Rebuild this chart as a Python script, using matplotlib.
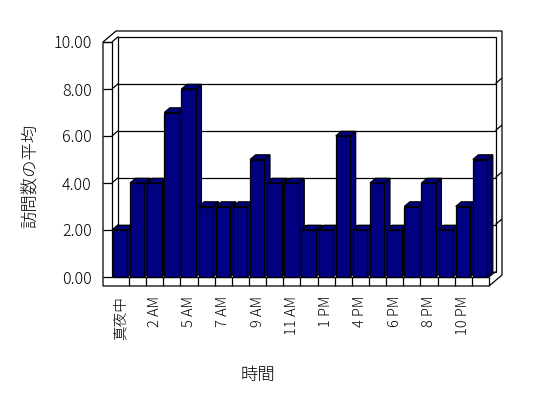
import matplotlib
matplotlib.use("Agg")
import matplotlib.pyplot as plt
from matplotlib.patches import Polygon

plt.rcParams['font.family'] = ['Noto Sans CJK JP', 'DejaVu Sans']

categories = ['真夜中', '1 AM', '2 AM', '4 AM', '5 AM', '6 AM', '7 AM', '8 AM',
              '9 AM', '10 AM', '11 AM', '正午', '1 PM', '3 PM', '4 PM', '5 PM',
              '6 PM', '7 PM', '8 PM', '9 PM', '10 PM', '11 PM']
values = [2, 4, 4, 7, 8, 3, 3, 3, 5, 4, 4, 2, 2, 6, 2, 4, 2, 3, 4, 2, 3, 5]
yticks = [0, 2, 4, 6, 8, 10]
ylabel = '訪問数の平均'
xlabel = '時間'

BAR = '#000080'
W, H = 548, 398
fig = plt.figure(figsize=(W / 100, H / 100), dpi=100)
fig.patch.set_facecolor('white')

# front plane of the plot box in pixels
px_l, px_r, py_0, py_10 = 111.9, 489.0, 277.0, 42.0
ax = fig.add_axes([px_l / W, (H - py_0) / H, (px_r - px_l) / W, (py_0 - py_10) / H])
n = len(values)
ymax = yticks[-1]
ax.set_xlim(0, n)
ax.set_ylim(0, ymax)
for s in ax.spines.values():
    s.set_visible(False)
ax.patch.set_visible(False)

sx = (px_r - px_l) / n          # px per category
sy = (py_0 - py_10) / ymax      # px per unit
DX, DY = 6.5 / sx, 5.5 / sy     # depth step in data units
WL = 8.9 / sx                   # left wall thickness
FT = 9.0 / sy                   # floor thickness

LW = 0.9
K = 'black'

def line(xs, ys, z=1):
    ax.plot(xs, ys, color=K, lw=LW, clip_on=False, zorder=z, solid_capstyle='butt')

def poly(pts, fc, z):
    ax.add_patch(Polygon(pts, closed=True, facecolor=fc, edgecolor=K, lw=LW,
                         clip_on=False, zorder=z, joinstyle='miter'))

# outer silhouette
poly([(-WL, -FT), (-WL, ymax), (-WL + 2 * DX, ymax + 2 * DY), (n + 2 * DX, ymax + 2 * DY),
      (n + 2 * DX, -FT + 2 * DY), (n, -FT)], 'white', 0)
# back wall inner face
poly([(DX, DY), (n + DX, DY), (n + DX, ymax + DY), (DX, ymax + DY)], 'white', 0.5)
# left wall
line([0, 0], [0, ymax])
line([-WL, 0], [ymax, ymax])
line([0, DX], [ymax, ymax + DY])
# floor
line([0, n], [0, 0])
line([n, n], [-FT, 0])
line([n, n + DX], [0, DY])
for i in range(1, n):
    line([i, i], [-FT, 0])
# gridlines & ticks
for v in yticks:
    line([-WL, 0], [v, v])
    if 0 < v < ymax:
        line([0, DX], [v, v + DY])
        line([DX, n + DX], [v + DY, v + DY])
        line([n + DX, n + 2 * DX], [v + DY, v + 2 * DY])

# bars
bw, bg, bd = 0.84, 0.06, 0.85
for i, v in enumerate(values):
    x0 = i + bg
    x1 = x0 + bw
    z = 2 + i * 0.01
    ddx, ddy = DX * bd, DY * bd
    poly([(x1, 0), (x1 + ddx, ddy), (x1 + ddx, v + ddy), (x1, v)], BAR, z)
    poly([(x0, v), (x1, v), (x1 + ddx, v + ddy), (x0 + ddx, v + ddy)], BAR, z)
    poly([(x0, 0), (x1, 0), (x1, v), (x0, v)], BAR, z)

# axes ticks / labels
ax.set_yticks(yticks)
ax.set_yticklabels([f'{v:.2f}' for v in yticks], fontsize=11.5, fontweight='light')
ax.tick_params(axis='y', length=0, pad=14.4)
ax.set_xticks([i + 0.5 for i in range(0, n, 2)])
ax.set_xticklabels(categories[::2], rotation=90, fontsize=10.5, fontweight='light')
ax.tick_params(axis='x', length=0, pad=13.5)

ax.set_ylabel(ylabel, fontsize=12.5, rotation=90, va='center', ha='center', fontweight='light')
ax.yaxis.set_label_coords((31 - px_l) / (px_r - px_l), (py_0 - 176) / (py_0 - py_10))
ax.set_xlabel(xlabel, fontsize=12.5, va='center', ha='center', fontweight='light')
ax.xaxis.set_label_coords((258 - px_l) / (px_r - px_l), (py_0 - 375) / (py_0 - py_10))

fig.savefig('out.png', dpi=100, facecolor='white')
